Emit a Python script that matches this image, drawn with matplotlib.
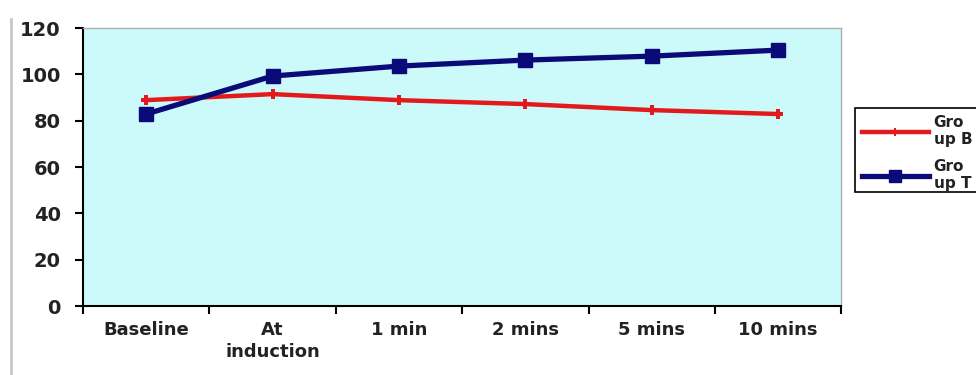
import matplotlib.pyplot as plt
from matplotlib.lines import Line2D
from matplotlib.patches import Rectangle

# time points and mean values for the two groups
categories = ["Baseline", "At\ninduction", "1 min", "2 mins", "5 mins", "10 mins"]
group_b = [88.9, 91.5, 88.9, 87.2, 84.6, 82.9]
group_t = [82.9, 99.3, 103.6, 106.2, 107.9, 110.5]
labels = ["Gro\nup B", "Gro\nup T"]

plt.rcParams['font.family'] = ['DejaVu Sans']

fig = plt.figure(figsize=(9.76, 3.75), dpi=100)
ax = fig.add_axes([0.085, 0.184, 0.777, 0.741])
ax.set_facecolor("#ccfafa")

x = [i + 0.5 for i in range(len(categories))]
ax.plot(x, group_b, color="#e31a1c", lw=3.2, marker="P", ms=7, mew=0)
ax.plot(x, group_t, color="#0a0a78", lw=3.8, marker="s", ms=10, mec="#0a0a78")

ax.set_xlim(0, len(categories))
ax.set_ylim(0, 120)
ax.set_yticks(range(0, 121, 20))
ax.set_xticks(range(len(categories) + 1))
ax.set_xticklabels([])
ax.set_xticks(x, minor=True)
ax.set_xticklabels(categories, minor=True, fontsize=13, fontweight="bold",
                   linespacing=1.25, color="#222222")
ax.tick_params(axis="x", which="minor", length=0, pad=11)
ax.tick_params(axis="x", which="major", length=6, width=1.5, direction="out")
ax.tick_params(axis="y", length=6, width=1.5, labelsize=14, pad=10,
               labelcolor="#222222")
for t in ax.get_yticklabels():
    t.set_fontweight("bold")

for s in ("left", "bottom"):
    ax.spines[s].set_linewidth(1.5)
for s in ("top", "right"):
    ax.spines[s].set_color("#b0b0b0")
    ax.spines[s].set_linewidth(1)

# legend box runs past the right edge of the figure
fig.add_artist(Rectangle((0.876, 0.488), 0.2, 0.224, transform=fig.transFigure,
                         facecolor="white", edgecolor="black", lw=1.2, clip_on=False))

handles = [
    Line2D([], [], color="#e31a1c", lw=3.2, marker="P", ms=6, mew=0),
    Line2D([], [], color="#0a0a78", lw=3.8, marker="s", ms=8),
]
leg = fig.legend(handles, labels, loc="upper left", bbox_to_anchor=(0.876, 0.712),
                 frameon=False, handlelength=4.4, handletextpad=0.3,
                 labelspacing=0.75, borderpad=0.45, borderaxespad=0,
                 prop={"weight": "bold", "size": 11})
for t in leg.get_texts():
    t.set_color("#222222")
    t.set_linespacing(1.2)

# thin grey border on the left of the figure
fig.add_artist(Line2D([0.011, 0.011], [0.0, 0.95], color="#c8c8c8", lw=2,
                      transform=fig.transFigure))

fig.savefig("out.png", dpi=100)
